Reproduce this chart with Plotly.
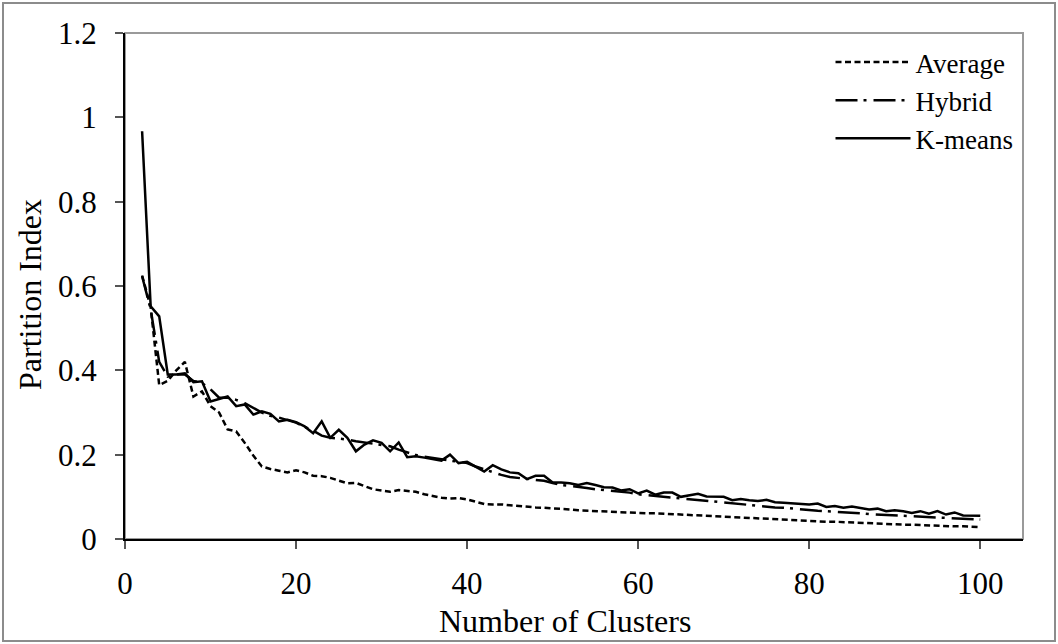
import plotly.graph_objects as go

# Number of clusters evaluated
clusters = list(range(2, 101))

# Partition index per clustering method
kmeans = [
    0.967, 0.552, 0.528, 0.390, 0.390, 0.393, 0.372, 0.374, 0.326, 0.332,
    0.338, 0.315, 0.319, 0.295, 0.303, 0.297, 0.279, 0.283, 0.277, 0.267,
    0.251, 0.279, 0.240, 0.259, 0.240, 0.208, 0.224, 0.234, 0.228, 0.208,
    0.229, 0.194, 0.196, 0.193, 0.190, 0.186, 0.200, 0.180, 0.183, 0.172,
    0.160, 0.175, 0.165, 0.158, 0.156, 0.142, 0.150, 0.150, 0.134, 0.134,
    0.132, 0.128, 0.133, 0.128, 0.123, 0.122, 0.115, 0.118, 0.108, 0.115,
    0.105, 0.110, 0.110, 0.100, 0.104, 0.107, 0.101, 0.100, 0.100, 0.092,
    0.095, 0.092, 0.090, 0.093, 0.087, 0.086, 0.085, 0.083, 0.082, 0.084,
    0.076, 0.078, 0.074, 0.077, 0.073, 0.070, 0.072, 0.066, 0.068, 0.066,
    0.062, 0.066, 0.060, 0.066, 0.058, 0.063, 0.056, 0.056, 0.055,
]

hybrid = [
    0.623, 0.545, 0.420, 0.385, 0.390, 0.390, 0.375, 0.370, 0.355, 0.335,
    0.335, 0.330, 0.322, 0.310, 0.300, 0.292, 0.288, 0.282, 0.276, 0.266,
    0.257, 0.245, 0.240, 0.238, 0.236, 0.232, 0.229, 0.227, 0.224, 0.220,
    0.212, 0.205, 0.199, 0.195, 0.192, 0.188, 0.186, 0.183, 0.180, 0.172,
    0.165, 0.158, 0.152, 0.147, 0.145, 0.143, 0.141, 0.138, 0.133, 0.128,
    0.126, 0.124, 0.121, 0.118, 0.116, 0.114, 0.112, 0.110, 0.106, 0.104,
    0.102, 0.100, 0.098, 0.096, 0.094, 0.092, 0.090, 0.088, 0.086, 0.084,
    0.082, 0.080, 0.079, 0.077, 0.075, 0.074, 0.072, 0.070, 0.069, 0.067,
    0.066, 0.065, 0.063, 0.062, 0.061, 0.059, 0.058, 0.057, 0.056, 0.055,
    0.054, 0.053, 0.052, 0.051, 0.050, 0.049, 0.048, 0.047, 0.046,
]

average = [
    0.625, 0.550, 0.365, 0.375, 0.400, 0.420, 0.338, 0.350, 0.315, 0.300,
    0.260, 0.255, 0.228, 0.198, 0.172, 0.166, 0.162, 0.158, 0.163, 0.158,
    0.150, 0.149, 0.145, 0.138, 0.132, 0.133, 0.125, 0.118, 0.115, 0.112,
    0.116, 0.114, 0.112, 0.106, 0.102, 0.098, 0.096, 0.097, 0.094, 0.088,
    0.083, 0.082, 0.082, 0.080, 0.078, 0.076, 0.075, 0.074, 0.073, 0.071,
    0.070, 0.068, 0.067, 0.066, 0.066, 0.065, 0.064, 0.063, 0.062, 0.061,
    0.061, 0.060, 0.059, 0.057, 0.056, 0.055, 0.054, 0.054, 0.053, 0.052,
    0.051, 0.050, 0.049, 0.048, 0.047, 0.046, 0.045, 0.044, 0.043, 0.042,
    0.041, 0.041, 0.040, 0.039, 0.038, 0.038, 0.037, 0.036, 0.035, 0.034,
    0.034, 0.033, 0.032, 0.031, 0.031, 0.030, 0.030, 0.029, 0.028,
]

x_ticks = [0, 20, 40, 60, 80, 100]
y_ticks = [0, 0.2, 0.4, 0.6, 0.8, 1, 1.2]
x_title = "Number of Clusters"
y_title = "Partition Index"

FONT = "Liberation Serif, Times New Roman, serif"

fig = go.Figure()
fig.add_trace(go.Scatter(
    x=clusters, y=average, name="Average", mode="lines",
    line=dict(color="black", width=2.5, dash="6px,3.5px"),
))
fig.add_trace(go.Scatter(
    x=clusters, y=hybrid, name="Hybrid", mode="lines",
    line=dict(color="black", width=2.5, dash="22px,6px,3px,7px"),
))
fig.add_trace(go.Scatter(
    x=clusters, y=kmeans, name="K-means", mode="lines",
    line=dict(color="black", width=2.5),
))

W, H = 1058, 644
L, R, T, B = 125, 35, 33, 105
pw, ph = W - L - R, H - T - B

fig.update_layout(
    width=W, height=H,
    margin=dict(l=L, r=R, t=T, b=B),
    paper_bgcolor="white", plot_bgcolor="white",
    font=dict(family=FONT, size=31, color="black"),
    showlegend=True,
    legend=dict(
        x=0.995, y=0.99, xanchor="right", yanchor="top",
        bgcolor="rgba(0,0,0,0)", font=dict(size=27, family=FONT),
        itemwidth=75, tracegroupgap=0,
    ),
    shapes=[
        # plot-area frame
        dict(type="rect", xref="paper", yref="paper", x0=0, y0=0, x1=1, y1=1,
             line=dict(color="#9a9a9a", width=2), layer="below"),
        # chart-area frame
        dict(type="rect", xref="paper", yref="paper",
             x0=(3 - L) / pw, x1=(W - 3 - L) / pw,
             y0=-(B - 3) / ph, y1=1 + (T - 3) / ph,
             line=dict(color="#8c8c8c", width=2)),
    ],
    annotations=[
        # axis titles
        dict(text=x_title, xref="paper", yref="paper",
             x=(565 - L) / pw, y=-(621 - (H - B)) / ph,
             xanchor="center", yanchor="middle", showarrow=False,
             borderpad=0, font=dict(size=32, family=FONT)),
        dict(text=y_title, xref="paper", yref="paper", textangle=-90,
             x=(30 - L) / pw, y=((H - B) - 295) / ph,
             xanchor="center", yanchor="middle", showarrow=False,
             borderpad=0, font=dict(size=32, family=FONT)),
    ],
)

fig.update_xaxes(
    range=[0, 105], tickvals=x_ticks, showgrid=False, zeroline=False,
    showline=True, linecolor="black", linewidth=2,
    ticks="outside", ticklen=8, tickwidth=1.5, tickcolor="#555",
    ticklabelstandoff=8,
)
fig.update_yaxes(
    range=[0, 1.2], tickvals=y_ticks, showgrid=False, zeroline=False,
    showline=True, linecolor="black", linewidth=2,
    ticks="outside", ticklen=8, tickwidth=1.5, tickcolor="#555",
    ticklabelstandoff=12,
)

fig.write_html("out.html")
